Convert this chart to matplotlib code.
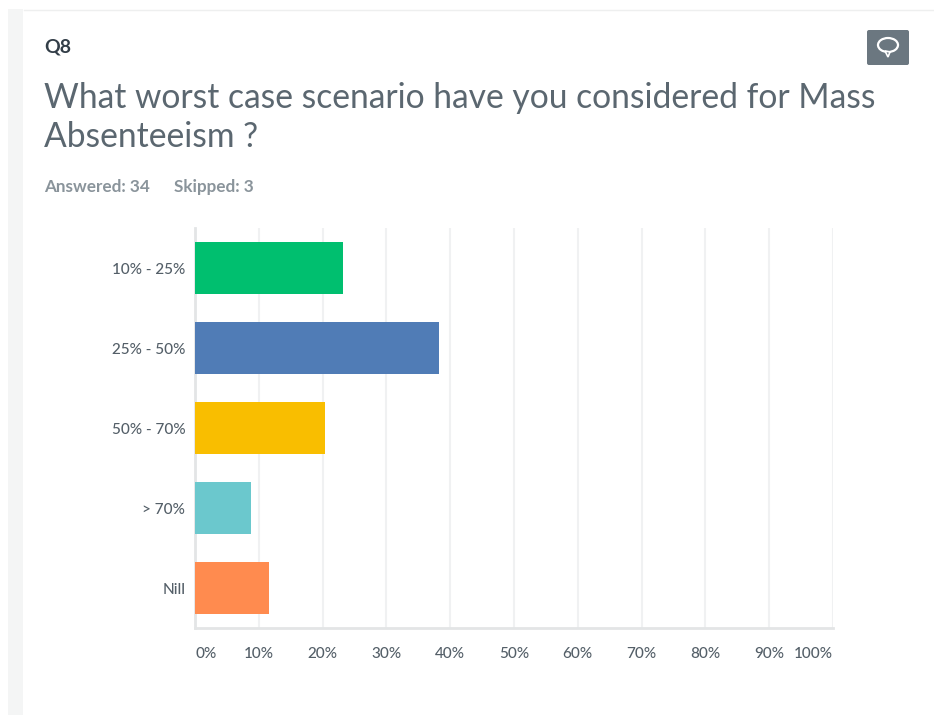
import matplotlib
matplotlib.use('Agg')
import matplotlib.patches as patches
import matplotlib.pyplot as plt

W, H = 934, 715

categories = ['10% - 25%', '25% - 50%', '50% - 70%', '> 70%', 'Nill']
values = [23.2, 38.2, 20.4, 8.8, 11.6]
bar_colors = ['#00bf6f', '#507cb6', '#f9be00', '#6bc8cd', '#ff8b4f']
x_ticks = [0, 10, 20, 30, 40, 50, 60, 70, 80, 90, 100]

COLOR_DARK = '#333e48'
COLOR_TITLE = '#5b6770'
COLOR_META = '#8a949b'
COLOR_TICK = '#545f68'
COLOR_GRID = '#f0f1f2'
COLOR_AXIS = '#e3e5e6'

plt.rcParams['font.family'] = ['Lato', 'DejaVu Sans']

fig = plt.figure(figsize=(W / 100, H / 100), dpi=100, facecolor='white')

# page background and card, in pixel coordinates
bg = fig.add_axes([0, 0, 1, 1])
bg.set_xlim(0, W)
bg.set_ylim(H, 0)
bg.axis('off')
bg.add_patch(patches.Rectangle((8, 9), 15, H - 9, facecolor='#f4f5f5', edgecolor='none'))
bg.plot([24, W], [9.5, 9.5], color='#eeefef', linewidth=1)

bg.text(44, 47, 'Q8', fontsize=14, fontweight='bold', color=COLOR_DARK, va='center')
bg.text(44, 98, 'What worst case scenario have you considered for Mass',
        fontsize=24.25, color=COLOR_TITLE, va='center')
bg.text(44, 137, 'Absenteeism ?', fontsize=24.25, color=COLOR_TITLE, va='center')
bg.text(44, 187, 'Answered: 34', fontsize=12.3, fontweight='bold', color=COLOR_META, va='center')
bg.text(174, 187, 'Skipped: 3', fontsize=12.3, fontweight='bold', color=COLOR_META, va='center')

# comment icon
bg.add_patch(patches.FancyBboxPatch((867, 30), 42, 35, boxstyle='round,pad=0,rounding_size=2',
                                    facecolor='#6b7780', edgecolor='none'))
bg.add_patch(patches.Ellipse((888, 45), 20, 14, facecolor='none', edgecolor='white', linewidth=1.6))
bg.add_patch(patches.Polygon([[885, 51], [888, 57], [890, 52]], closed=True,
                             facecolor='#6b7780', edgecolor='white', linewidth=1.2))

# bar chart
ax = fig.add_axes([195 / W, 1 - 628 / H, (833 - 195) / W, (628 - 228) / H])
positions = list(range(len(categories)))
ax.barh(positions, values, height=0.66, color=bar_colors, zorder=3)
ax.set_xlim(0, 100)
ax.set_ylim(len(categories) - 0.5, -0.5)
ax.set_yticks(positions)
ax.set_yticklabels(categories, fontsize=11, color=COLOR_TICK, fontweight='medium')
ax.set_xticks(x_ticks)
ax.set_xticklabels([f'{t}%' for t in x_ticks], fontsize=11, color=COLOR_TICK, fontweight='medium')
labels = ax.get_xticklabels()
labels[0].set_ha('left')
labels[-1].set_ha('right')
ax.tick_params(axis='both', length=0)
ax.tick_params(axis='x', pad=13.5)
ax.tick_params(axis='y', pad=7)
ax.grid(axis='x', color=COLOR_GRID, linewidth=1.5, zorder=0)
ax.set_axisbelow(True)
for side in ['top', 'right']:
    ax.spines[side].set_visible(False)
for side in ['left', 'bottom']:
    ax.spines[side].set_color(COLOR_AXIS)
    ax.spines[side].set_linewidth(2)

fig.savefig('out.png', dpi=100)
plt.close(fig)
